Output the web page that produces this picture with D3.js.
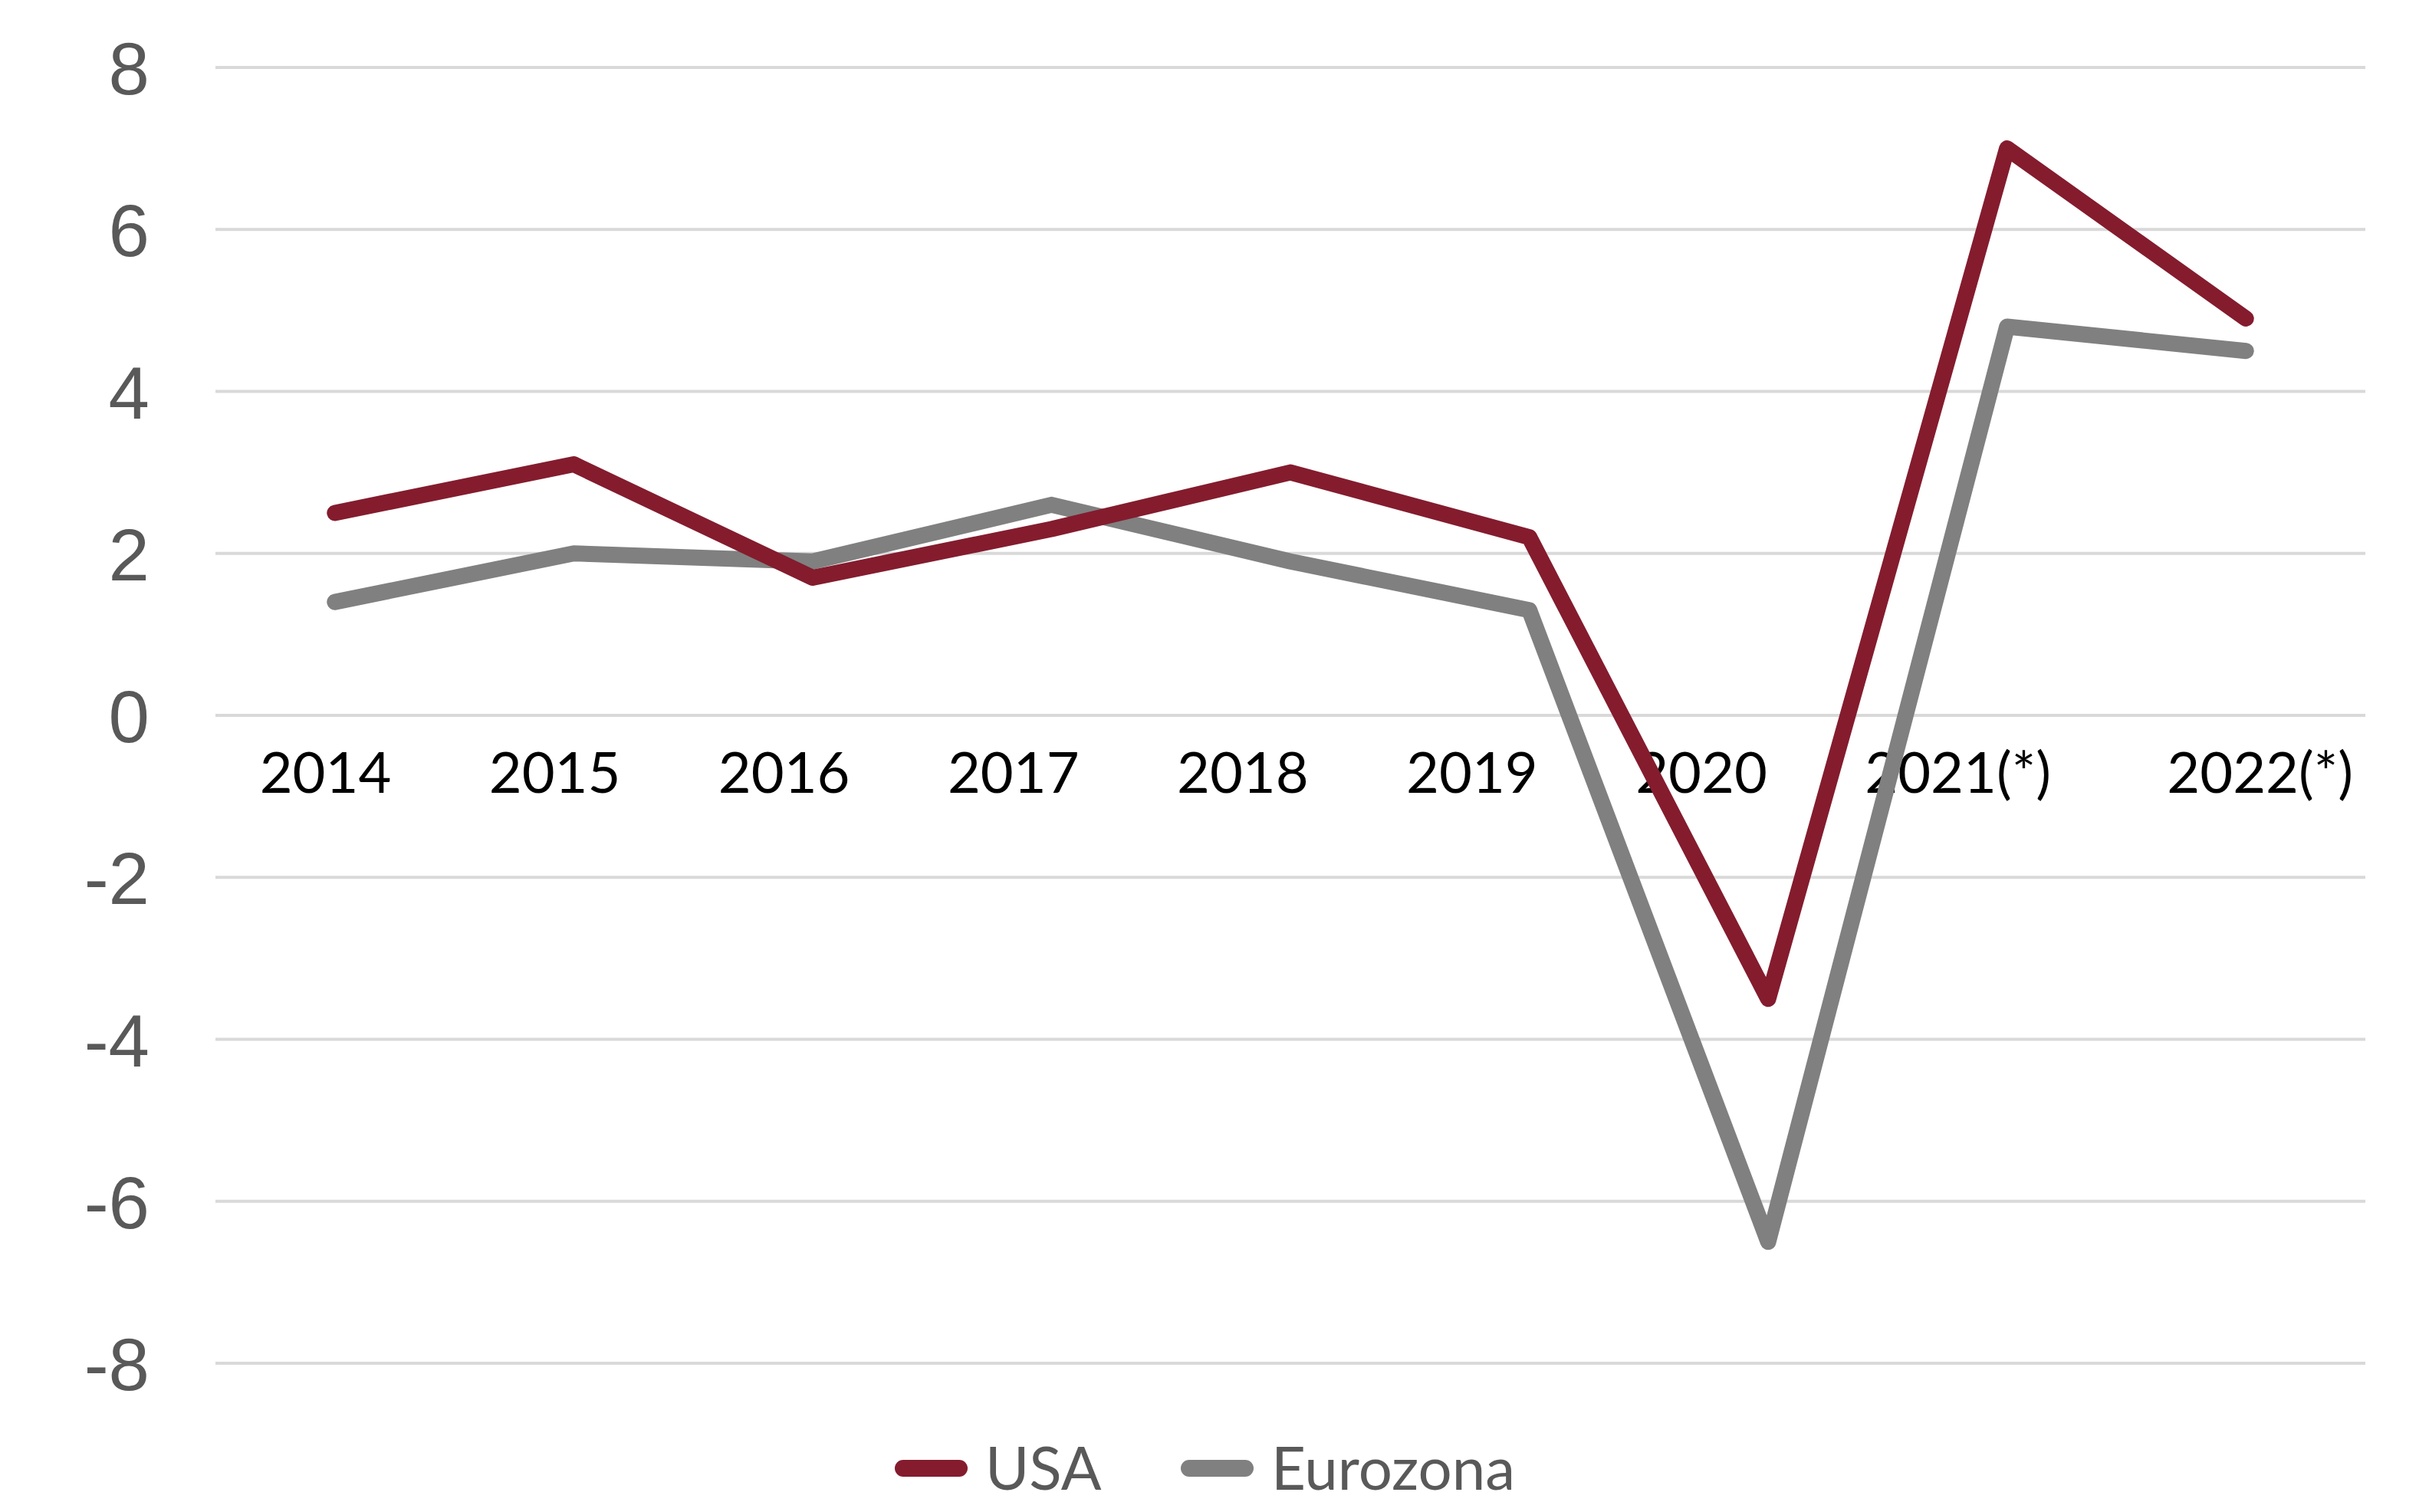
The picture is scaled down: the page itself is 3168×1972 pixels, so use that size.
<!DOCTYPE html>
<html>
<head>
<meta charset="utf-8">
<script src="https://cdn.jsdelivr.net/npm/d3@7"></script>
<style>
  html, body { margin: 0; padding: 0; background: #fff; }
</style>
</head>
<body>
<svg id="chart" width="3168" height="1972"></svg>
<script>
const categories = ["2014", "2015", "2016", "2017", "2018", "2019", "2020", "2021(*)", "2022(*)"];
const usaValues = [2.5, 3.1, 1.7, 2.3, 3.0, 2.2, -3.5, 7.0, 4.9];
const eurozonaValues = [1.4, 2.0, 1.9, 2.6, 1.9, 1.3, -6.5, 4.8, 4.5];
const yTicks = [-8, -6, -4, -2, 0, 2, 4, 6, 8];
const seriesNames = ["USA", "Eurozona"];

const COLORS = { USA: "#841c2e", Eurozona: "#808080" };
const PLOT = { left: 281, right: 3085, top: 88, bottom: 1778 };

const svg = d3.select("#chart");

const x = d3.scalePoint().domain(categories).range([PLOT.left, PLOT.right]).padding(0.5);
const y = d3.scaleLinear().domain([-8, 8]).range([PLOT.bottom, PLOT.top]);
const step = x.step();

// gridlines
svg.append("g")
  .selectAll("line.grid")
  .data(yTicks)
  .join("line")
  .attr("class", "grid")
  .attr("x1", PLOT.left)
  .attr("x2", PLOT.right)
  .attr("y1", (d) => y(d))
  .attr("y2", (d) => y(d))
  .attr("stroke", "#d9d9d9")
  .attr("stroke-width", 4);

// y axis labels (plain hyphen for negatives, like the source)
const yAxis = d3.axisLeft(y).tickValues(yTicks).tickSize(0).tickPadding(0).tickFormat((d) => String(d));
svg.append("g")
  .attr("transform", `translate(${PLOT.left - 86},0)`)
  .call(yAxis)
  .call((g) => g.select(".domain").remove())
  .selectAll("text")
  .attr("font-family", "'Liberation Sans', Arial, sans-serif")
  .attr("font-size", 96)
  .attr("fill", "#595959")
  .attr("dy", "0.36em");

// category labels sit just under the zero line, at a slightly tighter pitch than the points
const labelLeft = x(categories[0]) - 0.315 * step;
const labelPitch = 0.96 * step;
svg.append("g")
  .selectAll("text.cat")
  .data(categories)
  .join("text")
  .attr("class", "cat")
  .attr("x", (d, i) => (i === categories.length - 1 ? PLOT.right - 16 : labelLeft + i * labelPitch))
  .attr("y", y(0) + 101)
  .attr("text-anchor", (d, i) => (i === categories.length - 1 ? "end" : "start"))
  .attr("font-family", "Lato, 'Open Sans', sans-serif")
  .attr("font-size", 74)
  .attr("fill", "#000")
  .text((d) => d);

// lines
const series = [
  { name: "Eurozona", values: eurozonaValues },
  { name: "USA", values: usaValues },
];

const line = d3.line()
  .x((d, i) => x(categories[i]))
  .y((d) => y(d));

svg.append("g")
  .selectAll("path.series")
  .data(series)
  .join("path")
  .attr("class", "series")
  .attr("d", (d) => line(d.values))
  .attr("fill", "none")
  .attr("stroke", (d) => COLORS[d.name])
  .attr("stroke-width", 21)
  .attr("stroke-linecap", "round")
  .attr("stroke-linejoin", "round");

// legend
const legendY = 1915;
const legend = svg.append("g")
  .selectAll("g.legend-item")
  .data(seriesNames)
  .join("g")
  .attr("class", "legend-item")
  .attr("transform", (d, i) => `translate(${i === 0 ? 1168 : 1541},${legendY})`);

legend.append("line")
  .attr("x1", 10)
  .attr("x2", 83)
  .attr("stroke", (d) => COLORS[d])
  .attr("stroke-width", 22)
  .attr("stroke-linecap", "round");

legend.append("text")
  .attr("x", 117)
  .attr("y", 0)
  .attr("dy", "0.36em")
  .attr("font-family", "Lato, 'Open Sans', sans-serif")
  .attr("font-size", 78)
  .attr("fill", "#595959")
  .text((d) => d);
</script>
</body>
</html>
